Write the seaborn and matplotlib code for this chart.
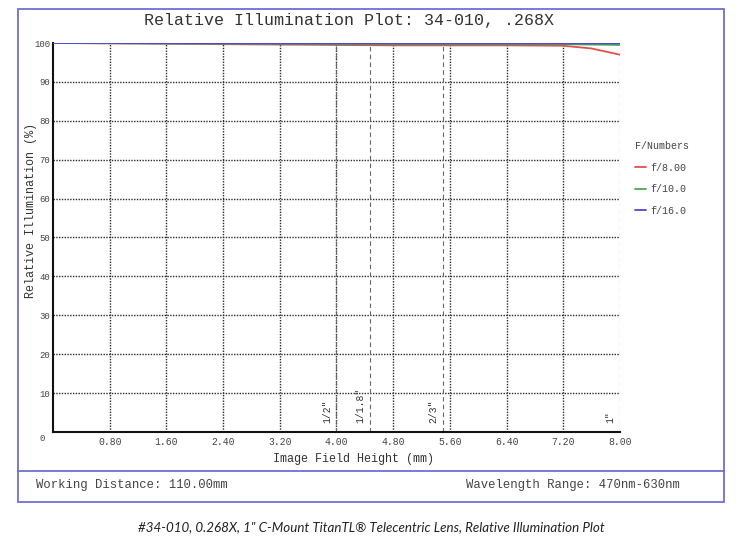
import matplotlib.pyplot as plt
import numpy as np
import pandas as pd
import seaborn as sns
from matplotlib.patches import Rectangle
from matplotlib.lines import Line2D

# field height samples (mm) and relative illumination per f-number
field_mm = [0.0, 0.8, 1.6, 2.4, 3.2, 4.0, 4.8, 5.6, 6.4, 7.2, 7.6, 8.0]
f8_vals = [100.0, 99.9, 99.8, 99.7, 99.6, 99.5, 99.4, 99.4, 99.4, 99.3, 98.6, 97.0]
f10_vals = [100.0, 99.95, 99.9, 99.85, 99.8, 99.7, 99.7, 99.7, 99.7, 99.7, 99.6, 99.5]
f16_vals = [100.0, 100.0, 99.95, 99.95, 99.9, 99.9, 99.9, 99.9, 99.9, 99.9, 99.9, 99.9]
f_labels = ["f/8.00", "f/10.0", "f/16.0"]
f_colors = ["#e2504c", "#4caa4c", "#4a4ad2"]

# sensor formats and their half-diagonals (mm)
sensor_names = ['1/2"', '1/1.8"', '2/3"', '1"']
sensor_half_diag = [4.0, 4.47, 5.5, 8.0]

x_ticks = [0.8, 1.6, 2.4, 3.2, 4.0, 4.8, 5.6, 6.4, 7.2, 8.0]
y_ticks = [10, 20, 30, 40, 50, 60, 70, 80, 90, 100]

df = pd.DataFrame({
    "field": field_mm * 3,
    "ri": f8_vals + f10_vals + f16_vals,
    "fnum": np.repeat(f_labels, len(field_mm)),
})

sns.set_style("white")
plt.rcParams["font.family"] = ["Liberation Mono", "DejaVu Sans Mono"]

fig = plt.figure(figsize=(7.43, 5.41), dpi=100)
ax = fig.add_axes([0.0713, 0.2015, 0.763, 0.719])

# grid first so curves sit on top
for xv in x_ticks[:-1]:
    ax.axvline(xv, color="#2a2a2a", lw=1.0, ls=(0, (1, 1)), zorder=1)
for yv in y_ticks[:-1]:
    ax.axhline(yv, color="#2a2a2a", lw=1.0, ls=(0, (1, 1)), zorder=1)

for name, xv in zip(sensor_names, sensor_half_diag):
    ax.axvline(xv, color="#666666", lw=0.8, ls=(0, (4, 3)), zorder=1)
    ax.text(xv - 0.06, 2.3, name, rotation=90, ha="right", va="bottom",
            fontsize=7, color="#333333")

sns.lineplot(data=df, x="field", y="ri", hue="fnum", palette=f_colors,
             linewidth=1.3, ax=ax, legend=False, zorder=3)

ax.set_xlim(0, 8)
ax.set_ylim(0, 100)
ax.set_xticks(x_ticks)
ax.set_xticklabels([f"{v:.2f}" for v in x_ticks], fontsize=7, color="#444444")
ax.set_yticks(y_ticks)
ax.set_yticklabels([str(v) for v in y_ticks], fontsize=6.5, color="#444444")
ax.tick_params(axis="x", length=0, pad=3.5)
ax.tick_params(axis="y", length=0, pad=2)
ax.text(-0.12, -0.6, "0", fontsize=6.5, color="#444444", ha="right", va="top")
ax.set_xlabel("Image Field Height (mm)", fontsize=8.5, color="#333333")
ax.xaxis.set_label_coords(0.53, -0.055)
ax.set_ylabel("Relative Illumination (%)", fontsize=8.5, color="#333333")
ax.yaxis.set_label_coords(-0.029, 0.57)

for s in ["top", "right"]:
    ax.spines[s].set_visible(False)
for s in ["left", "bottom"]:
    ax.spines[s].set_color("#111111")
    ax.spines[s].set_linewidth(1.5)

handles = [Line2D([], [], color=c, lw=1.3) for c in f_colors]
leg = ax.legend(handles, f_labels, title="F/Numbers", loc="upper left",
                bbox_to_anchor=(0.843, 0.756), bbox_transform=fig.transFigure,
                frameon=False, fontsize=7.2, title_fontsize=7.2,
                handlelength=1.1, handletextpad=0.4, labelspacing=1.15,
                alignment="left")
for t in leg.get_texts():
    t.set_color("#444444")
leg.get_title().set_color("#444444")

fig.text(0.470, 0.963, "Relative Illumination Plot: 34-010, .268X",
         ha="center", va="center", fontsize=12, color="#333333")

# frame around the chart and the info strip
frame_col = "#6e6ed6"
fig.add_artist(Rectangle((0.0242, 0.0721), 0.9502, 0.9113,
                         transform=fig.transFigure, fill=False,
                         ec=frame_col, lw=1.3))
fig.add_artist(Line2D([0.0242, 0.9744], [0.1294, 0.1294],
                      transform=fig.transFigure, color=frame_col, lw=1.3))
fig.text(0.048, 0.1035, "Working Distance: 110.00mm", fontsize=8.8,
         color="#444444", va="center")
fig.text(0.915, 0.1035, "Wavelength Range: 470nm-630nm", fontsize=8.8,
         color="#444444", va="center", ha="right")

fig.text(0.5, 0.026,
         "#34-010, 0.268X, 1\" C-Mount TitanTL® Telecentric Lens, Relative Illumination Plot",
         ha="center", va="center", fontsize=9.6, style="italic",
         family=["Lato", "DejaVu Sans"], color="#222222")

fig.savefig("out.png", dpi=100)
